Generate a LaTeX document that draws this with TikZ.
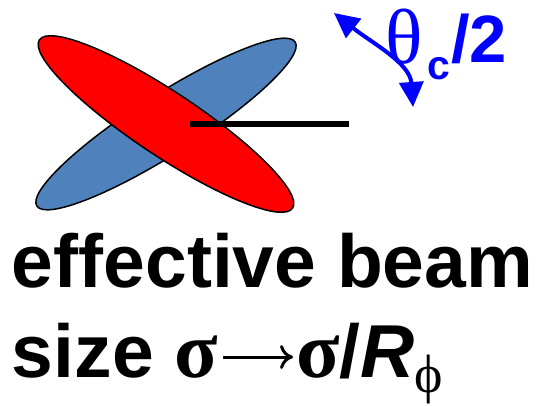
\documentclass[tikz,border=0pt]{standalone}
\usepackage{fontspec}
\setmainfont{Liberation Sans}
\newfontfamily\grk{Liberation Serif}
\usetikzlibrary{arrows.meta}
\definecolor{beamblue}{RGB}{79,129,189}
\definecolor{beamred}{RGB}{255,0,0}
\tikzset{
  beamshape/.style={draw=black, line width=1.5pt},
  anglearrow/.style={draw=blue, line width=4pt,
    {Triangle[length=25pt,width=24pt]}-{Triangle[length=25pt,width=24pt]}},
  txt/.style={anchor=base west, inner sep=0pt, outer sep=0pt},
  maparrow/.style={line width=3pt, -{Computer Modern Rightarrow[length=13pt,width=24pt]}},
}
\begin{document}
\begin{tikzpicture}[x=1pt,y=1pt]
\useasboundingbox (0,0) rectangle (537,405);
% beams
\coordinate (ip) at (166,281);
\draw[beamshape, fill=beamblue, rotate around={32.4:(ip)}] (ip) ellipse [x radius=153, y radius=30];
\draw[beamshape, fill=beamred, rotate around={-33.6:(ip)}] (ip) ellipse [x radius=152, y radius=32];
% axis line
\coordinate (ls) at (190,281);
\coordinate (le) at (349,281);
\draw[line width=6.7pt] (ls) -- (le);
% crossing angle arrow
\coordinate (t1) at (334,392);
\coordinate (t2) at (413,298);
\draw[anglearrow] (t1) .. controls (372,362) and (410,342) .. (t2);
% angle label
\node[txt, text=blue] (theta) at (385,341) {\grk\fontsize{78}{78}\selectfont θ};
\node[txt, text=blue] (sub) at (427,325) {\bfseries\fontsize{41}{41}\selectfont c};
\node[txt, text=blue] (half) at (451,342) {\bfseries\fontsize{67}{67}\selectfont /2};
% caption
\node[txt] (line1) at (12,118) {\bfseries\fontsize{75}{75}\selectfont effective beam};
\node[txt] (line2a) at (12,28) {\bfseries\fontsize{75}{75}\selectfont size {\grk\fontsize{80}{80}\selectfont σ}};
\node[txt] (line2b) at (296,28) {\bfseries\fontsize{75}{75}\selectfont{\grk\fontsize{80}{80}\selectfont σ}/{\itshape R}\raisebox{-15pt}{\grk\mdseries\fontsize{54}{54}\selectfont ϕ}};
\coordinate (m1) at (223,48);
\coordinate (m2) at (293,48);
\draw[maparrow] (m1) -- (m2);
\end{tikzpicture}
\end{document}
